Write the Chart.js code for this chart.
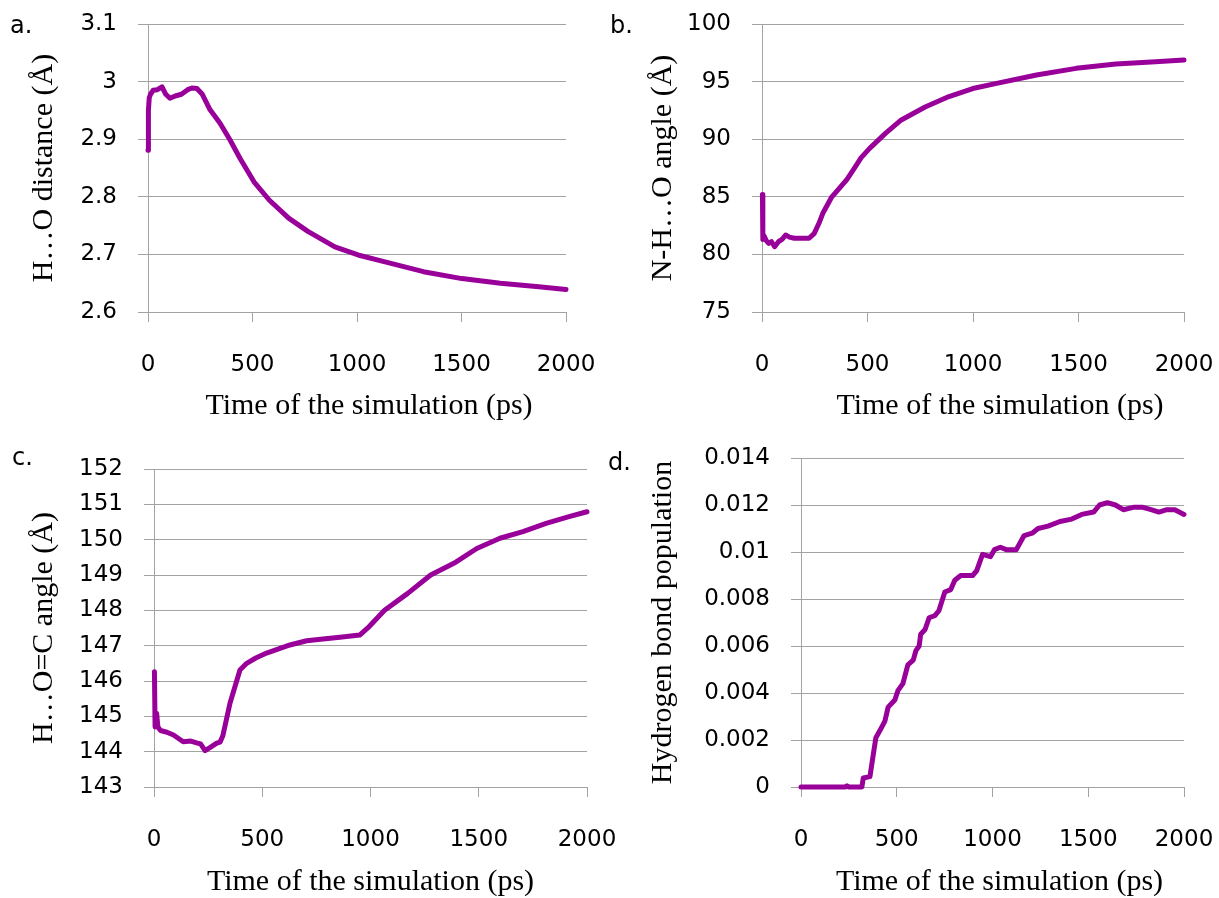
<!DOCTYPE html>
<html>
<head>
<meta charset="utf-8">
<script src="https://cdn.jsdelivr.net/npm/chart.js@4.4.1/dist/chart.umd.min.js"></script>
<style>
    body { margin: 0; background: #fff; }
    #page { position: relative; width: 1219px; height: 898px; overflow: hidden; background: #fff; }
    canvas { position: absolute; }
    .panel-label { position: absolute; font: 24px/24px "DejaVu Sans", sans-serif; color: #000; }
</style>
</head>
<body>
<div id="page">
    <canvas id="chart-a" width="600" height="440" style="left:0;top:0"></canvas>
    <canvas id="chart-b" width="619" height="440" style="left:600px;top:0"></canvas>
    <canvas id="chart-c" width="630" height="458" style="left:0;top:440px"></canvas>
    <canvas id="chart-d" width="619" height="458" style="left:600px;top:440px"></canvas>
    <div class="panel-label" style="left:10px;top:13px">a.</div>
    <div class="panel-label" style="left:610px;top:13px">b.</div>
    <div class="panel-label" style="left:12px;top:445px">c.</div>
    <div class="panel-label" style="left:608px;top:450px">d.</div>
</div>
<script>
const timeTicks = [0, 500, 1000, 1500, 2000];
const distanceTicks = [2.6, 2.7, 2.8, 2.9, 3, 3.1];
const nhoTicks = [75, 80, 85, 90, 95, 100];
const hocTicks = [143, 144, 145, 146, 147, 148, 149, 150, 151, 152];
const populationTicks = [0, 0.002, 0.004, 0.006, 0.008, 0.01, 0.012, 0.014];

// a. H...O distance
const timeA = [0, 2, 6, 12, 25, 45, 67, 85, 105, 130, 160, 190, 210, 234, 260, 297, 344, 392, 440, 507,
    581, 673, 765, 894, 1005, 1134, 1318, 1502, 1686, 1870, 2000];
const distanceA = [2.881, 2.950, 2.972, 2.978, 2.985, 2.986, 2.991, 2.978, 2.971, 2.975, 2.978, 2.986, 2.989, 2.988, 2.978, 2.951, 2.928, 2.899, 2.867, 2.826,
    2.794, 2.763, 2.740, 2.713, 2.699, 2.687, 2.670, 2.658, 2.650, 2.644, 2.639];

// b. N-H...O angle
const timeB = [2, 4, 10, 20, 32, 45, 60, 78, 95, 112, 130, 153, 190, 223, 247, 270, 289, 331, 360, 402,
    435, 470, 510, 585, 660, 773, 886, 999, 1112, 1301, 1489, 1677, 1865, 2000];
const angleB = [85.2, 81.3, 81.6, 81.2, 80.96, 81.1, 80.67, 81.1, 81.3, 81.68, 81.5, 81.4, 81.4, 81.4, 81.8, 82.7, 83.6, 85.0, 85.6, 86.5,
    87.4, 88.4, 89.2, 90.5, 91.67, 92.8, 93.7, 94.4, 94.85, 95.57, 96.15, 96.53, 96.73, 96.88];

// c. H...O=C angle
const timeC = [2, 5, 12, 18, 30, 60, 90, 135, 170, 197, 215, 236, 260, 290, 305, 318, 351, 397, 428, 470,
    520, 628, 705, 780, 859, 950, 994, 1065, 1172, 1278, 1385, 1491, 1598, 1704, 1811, 1917, 2000];
const angleC = [146.26, 144.7, 145.09, 144.7, 144.6, 144.55, 144.47, 144.28, 144.3, 144.25, 144.22, 144.03, 144.12, 144.24, 144.27, 144.45, 145.37, 146.31, 146.5, 146.65,
    146.79, 147.02, 147.14, 147.19, 147.24, 147.3, 147.54, 148.0, 148.48, 149.0, 149.33, 149.75, 150.04, 150.23, 150.46, 150.65, 150.79];

// d. hydrogen bond population
const timeD = [0, 230, 240, 250, 318, 325, 360, 376, 391, 412, 438, 455, 490, 506, 532, 558, 586, 600, 617, 625,
    648, 669, 700, 720, 751, 782, 803, 834, 896, 917, 948, 989, 1010, 1041, 1072, 1124, 1145, 1165, 1207, 1238,
    1290, 1352, 1414, 1466, 1528, 1559, 1600, 1642, 1683, 1735, 1786, 1828, 1869, 1911, 1952, 2000];
const populationD = [0, 0, 0.00005, 0, 0, 0.00038, 0.00044, 0.0013, 0.0021, 0.0024, 0.0028, 0.0034, 0.0037, 0.0041, 0.0044, 0.0052, 0.0054, 0.0058, 0.0060, 0.0065,
    0.0067, 0.0072, 0.0073, 0.0075, 0.0083, 0.0084, 0.0088, 0.0090, 0.0090, 0.0092, 0.0099, 0.0098, 0.0101, 0.0102, 0.0101, 0.0101, 0.0104, 0.0107, 0.0108, 0.0110,
    0.0111, 0.0113, 0.0114, 0.0116, 0.0117, 0.0120, 0.0121, 0.0120, 0.0118, 0.0119, 0.0119, 0.0118, 0.0117, 0.0118, 0.0118, 0.0116];

const lineColor = '#990099';
const gridColor = '#a3a3a3';
const tickFont = {family: 'DejaVu Sans', size: 23};
const titleFont = {family: 'Liberation Serif', size: 30, lineHeight: 1};

// x title drawn by hand so it can sit a little off the plot centre, like the original
const xTitle = {
    id: 'xTitle',
    afterDraw(chart, args, opts) {
        let ctx = chart.ctx;
        let area = chart.chartArea;
        ctx.save();
        ctx.font = '30px "Liberation Serif"';
        ctx.fillStyle = '#000';
        ctx.textAlign = 'center';
        ctx.textBaseline = 'alphabetic';
        ctx.fillText(opts.text, (area.left + area.right) / 2 + opts.shift, opts.baseline);
        ctx.restore();
    }
};

const Figure = {
    render() {
        Figure.panel('chart-a', timeA, distanceA, distanceTicks, 'H…O distance (Å)', {
            yWidth: 148, xHeight: 128, top: 24, right: 34, yTitlePad: 29, shift: 12, baseline: 414
        });
        Figure.panel('chart-b', timeB, angleB, nhoTicks, 'N-H…O angle (Å)', {
            yWidth: 162, xHeight: 128, top: 24, right: 35, yTitlePad: 48, shift: 27, baseline: 414
        });
        Figure.panel('chart-c', timeC, angleC, hocTicks, 'H…O=C angle (Å)', {
            yWidth: 154, xHeight: 111, top: 29, right: 43, yTitlePad: 29, shift: 0, baseline: 450
        });
        Figure.panel('chart-d', timeD, populationD, populationTicks, 'Hydrogen bond population', {
            yWidth: 201, xHeight: 111, top: 18, right: 35, yTitlePad: 48, shift: 7, baseline: 450
        });
    },

    panel(id, times, values, yTicks, yLabel, box) {
        return new Chart(document.getElementById(id), {
            type: 'line',
            data: {
                datasets: [
                    {
                        data: times.map((t, i) => ({x: t, y: values[i]})),
                        borderColor: lineColor,
                        borderWidth: 5,
                        borderJoinStyle: 'round',
                        borderCapStyle: 'round',
                        pointRadius: 0,
                        tension: 0,
                        clip: false,
                    }
                ]
            },
            plugins: [xTitle],
            options: {
                responsive: false,
                animation: false,
                events: [],
                layout: {
                    autoPadding: false,
                    padding: {left: 0, top: box.top, right: box.right, bottom: 0}
                },
                plugins: {
                    legend: {display: false},
                    tooltip: {enabled: false},
                    xTitle: {text: 'Time of the simulation (ps)', shift: box.shift, baseline: box.baseline},
                },
                scales: {
                    x: {
                        type: 'linear',
                        min: timeTicks[0],
                        max: timeTicks[timeTicks.length - 1],
                        afterBuildTicks: scale => {
                            scale.ticks = timeTicks.map(v => ({value: v}));
                        },
                        afterFit: scale => {
                            // fixed box, and no extra room asked for the end labels
                            scale.height = box.xHeight;
                            scale.paddingLeft = 0;
                            scale.paddingRight = 0;
                        },
                        grid: {
                            drawOnChartArea: false,
                            drawTicks: true,
                            tickLength: 10,
                            color: gridColor,
                        },
                        border: {display: false},
                        ticks: {
                            font: tickFont,
                            color: '#000',
                            padding: 29,
                            maxRotation: 0,
                            autoSkip: false,
                            callback: v => String(v),
                        },
                    },
                    y: {
                        type: 'linear',
                        min: yTicks[0],
                        max: yTicks[yTicks.length - 1],
                        afterBuildTicks: scale => {
                            scale.ticks = yTicks.map(v => ({value: v}));
                        },
                        afterFit: scale => {
                            scale.width = box.yWidth;
                            scale.paddingTop = 0;
                            scale.paddingBottom = 0;
                        },
                        grid: {
                            drawTicks: true,
                            tickLength: 10,
                            color: gridColor,
                        },
                        border: {display: true, color: gridColor},
                        ticks: {
                            font: tickFont,
                            color: '#000',
                            padding: 21,
                            autoSkip: false,
                            callback: v => String(v),
                        },
                        title: {
                            display: true,
                            text: yLabel,
                            font: titleFont,
                            color: '#000',
                            padding: {top: box.yTitlePad, bottom: 0},
                        },
                    }
                }
            }
        });
    },
};

Figure.render();
</script>
</body>
</html>
